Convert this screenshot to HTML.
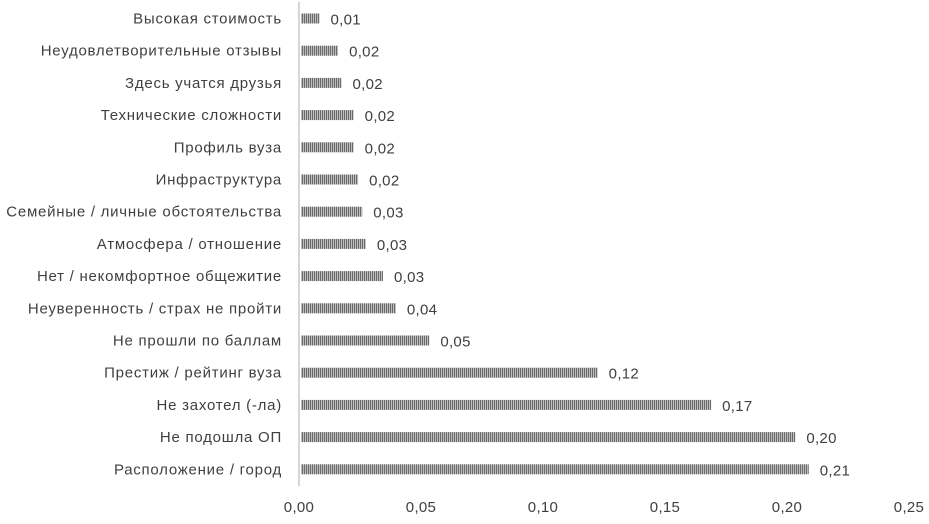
<!DOCTYPE html>
<html><head><meta charset="utf-8"><style>
body{margin:0;background:#fff;}
svg{font-family:"Liberation Sans",sans-serif;}
</style></head><body>
<svg width="929" height="519">
<defs><pattern id="stripes" width="2" height="10" patternUnits="userSpaceOnUse"><rect width="2" height="10" fill="#bdbdbd"/><rect width="1" height="10" fill="#6a6a6a"/></pattern></defs>
<g id="g"></g>
</svg>
<script>
const categories=["Высокая стоимость","Неудовлетворительные отзывы","Здесь учатся друзья","Технические сложности","Профиль вуза","Инфраструктура","Семейные / личные обстоятельства","Атмосфера / отношение","Нет / некомфортное общежитие","Неуверенность / страх не пройти","Не прошли по баллам","Престиж / рейтинг вуза","Не захотел (-ла)","Не подошла ОП","Расположение / город"];
const values=[0.008,0.0156,0.017,0.022,0.022,0.0238,0.0255,0.027,0.034,0.0393,0.053,0.122,0.1685,0.203,0.2085];
const valueLabels=["0,01","0,02","0,02","0,02","0,02","0,02","0,03","0,03","0,03","0,04","0,05","0,12","0,17","0,20","0,21"];
const ticks=[0,0.05,0.1,0.15,0.2,0.25];
const tickLabels=["0,00","0,05","0,10","0,15","0,20","0,25"];
const NS="http://www.w3.org/2000/svg";
const g=document.getElementById('g');
const x=v=>300+v*(910-300)/0.25;
const y=i=>18.5+i*32.2;
function mk(t,a,txt){const e=document.createElementNS(NS,t);for(const k in a)e.setAttribute(k,a[k]);if(txt!==undefined)e.textContent=txt;g.appendChild(e);return e;}
let ax=mk('line',{x1:299,x2:299,y1:2,y2:486,stroke:'#c8c8c8','stroke-width':1.5});


categories.forEach((c,i)=>{
 let l=mk('text',{x:282,y:y(i)+5,'text-anchor':'end','font-size':15,'letter-spacing':0.75,fill:'#404040'},c);
 
 
 let b=mk('rect',{x:301,y:y(i)-5,width:x(values[i])-301,height:10,fill:'url(#stripes)'});
 
 
 let v=mk('text',{x:x(values[i])+11,y:y(i)+6,'font-size':15,'letter-spacing':0.3,fill:'#404040'},valueLabels[i]);
 
 
});
ticks.forEach((t,i)=>{
 let l=mk('text',{x:x(t)-1,y:512,'text-anchor':'middle','font-size':15,'letter-spacing':0.3,fill:'#404040'},tickLabels[i]);
 
 
});
</script>
</body></html>
